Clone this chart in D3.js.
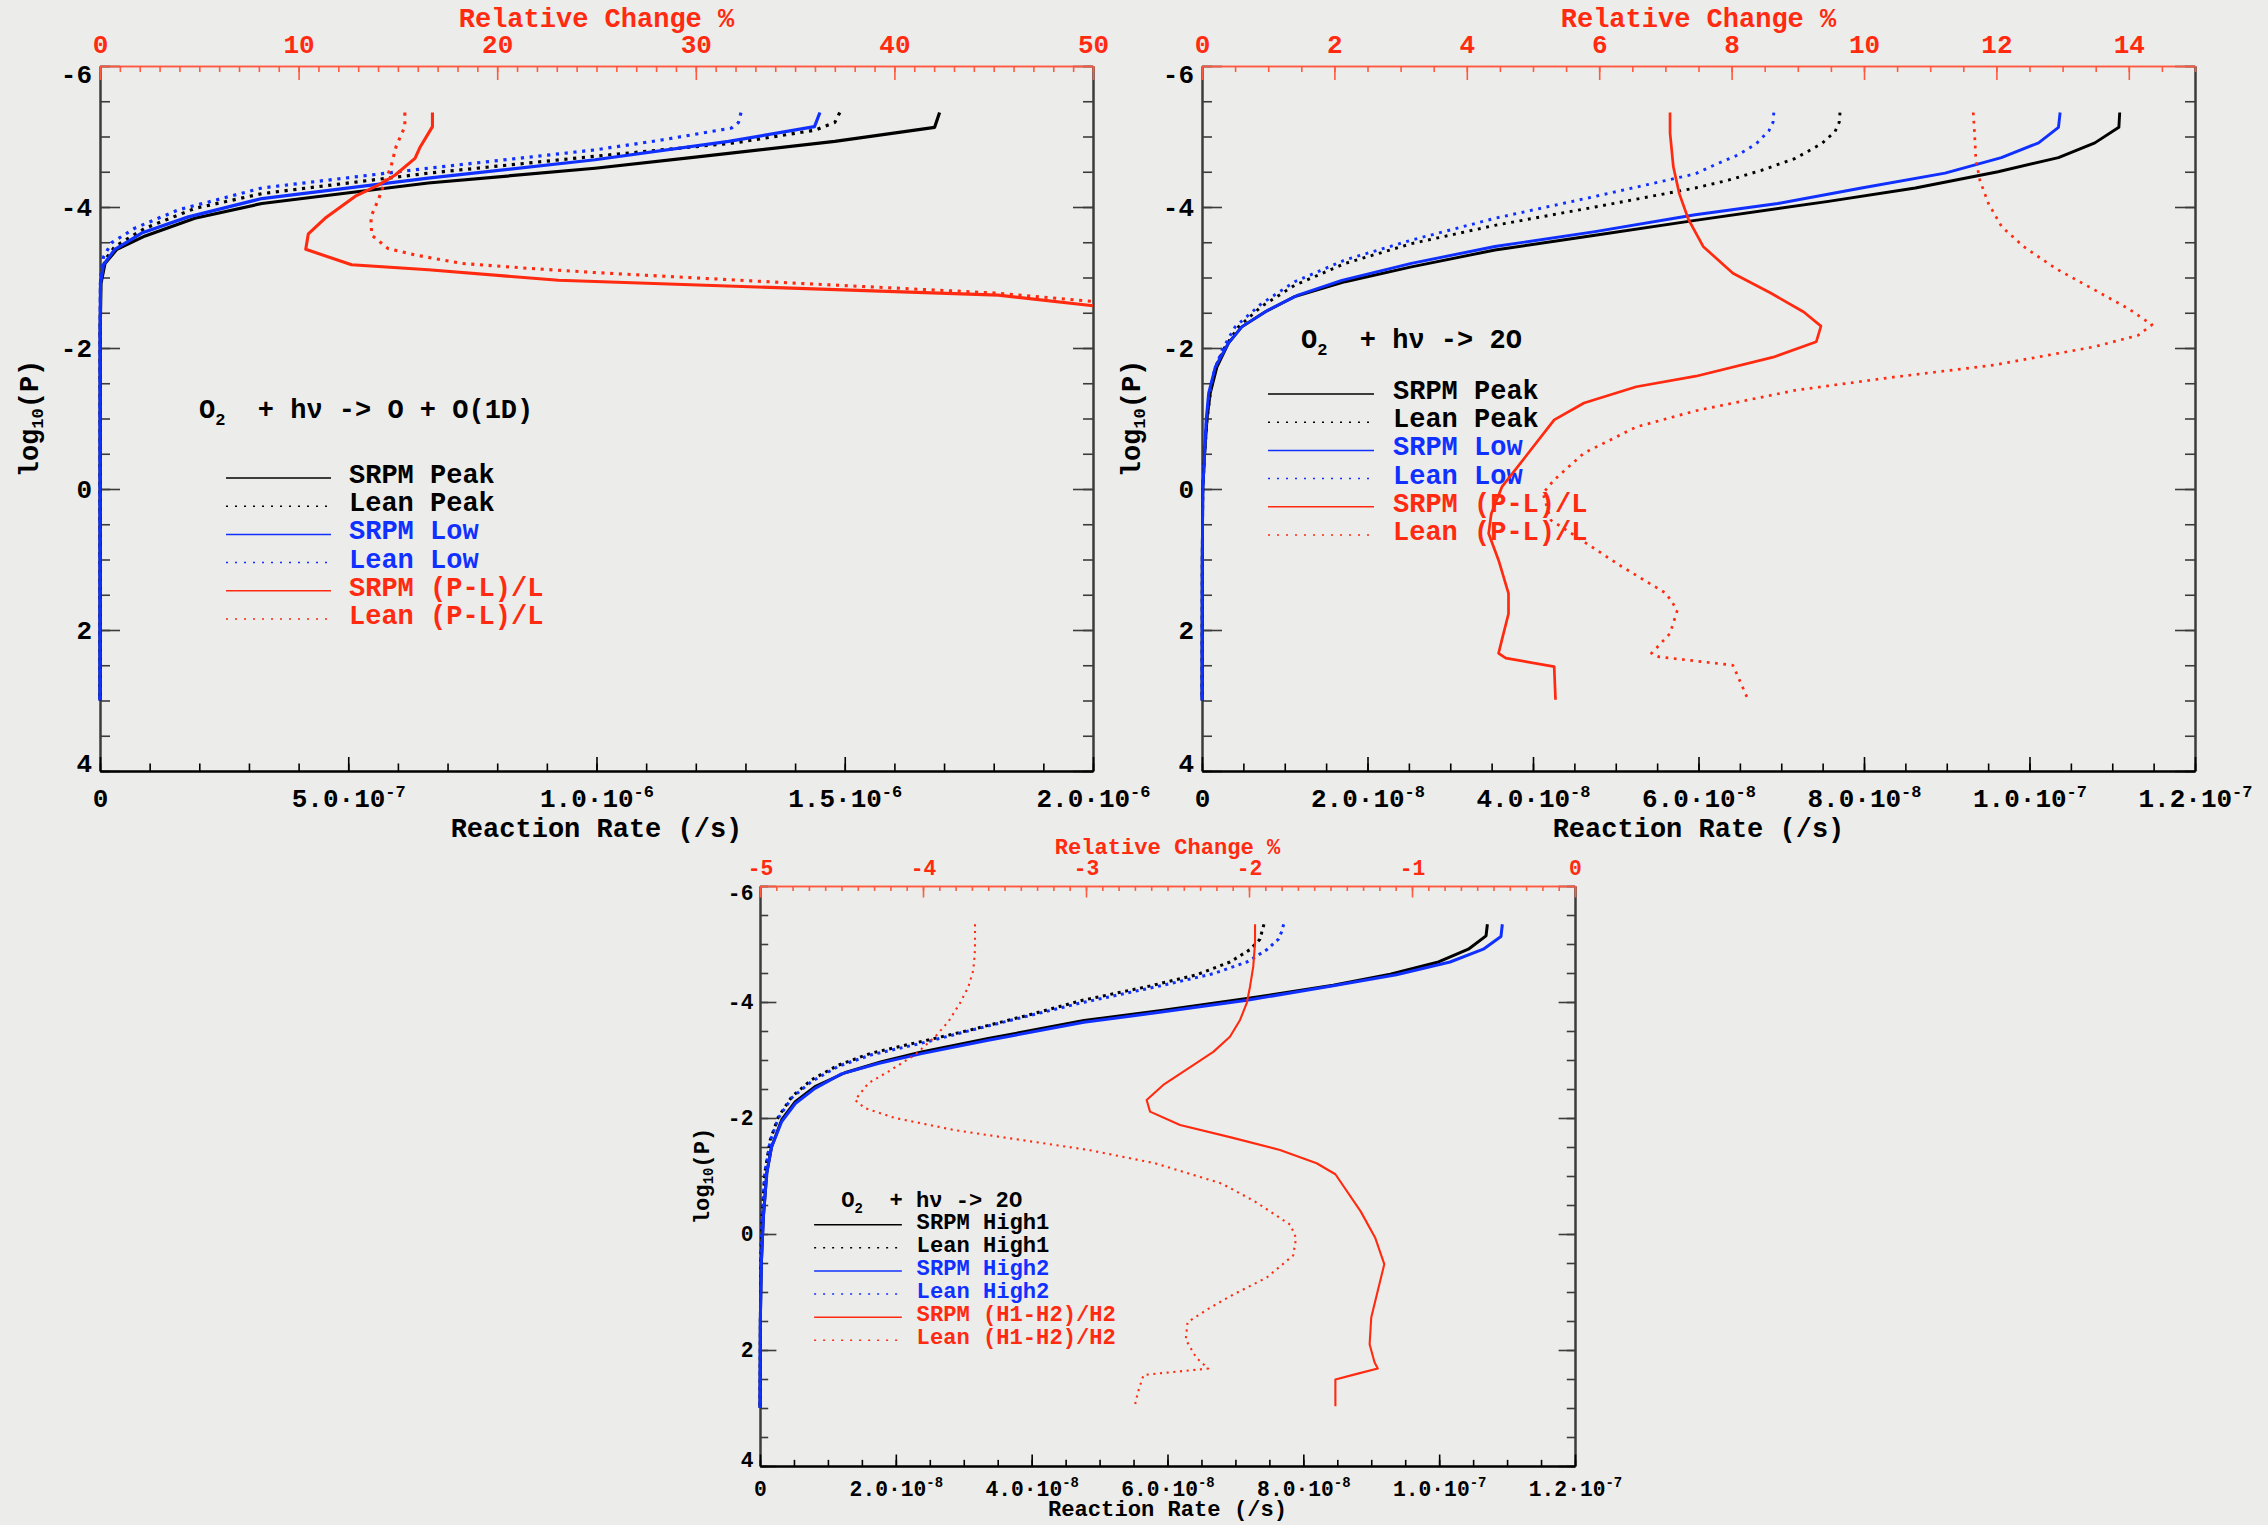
<!DOCTYPE html>
<meta charset="utf-8">
<style>
  body { margin: 0; background: #ecedea; }
  svg { display: block; }
  text { font-family: "Liberation Mono", "Courier New", monospace; font-weight: bold; white-space: pre; }
</style>
<body>
<script src="https://d3js.org/d3.v7.min.js"></script>
<script>

// ---------- data : [log10(P), value] ----------
var pressureTicks = [-6, -4, -2, 0, 2, 4];
var legendColours = ["#000", "#000", "#1030ff", "#1030ff", "#ff2a10", "#ff2a10"];

// panel 1 : O2 + hv -> O + O(1D)
var p1RateTicks = [0, 5e-7, 1e-6, 1.5e-6, 2e-6];
var p1RateLabels = [["0", ""], ["5.0·10", "-7"], ["1.0·10", "-6"], ["1.5·10", "-6"], ["2.0·10", "-6"]];
var p1PctTicks = [0, 10, 20, 30, 40, 50];
var p1Title = ["O", "2", "  + hν -> O + O(1D)"];
var p1Legend = ["SRPM Peak", "Lean Peak", "SRPM Low", "Lean Low", "SRPM (P-L)/L", "Lean (P-L)/L"];
var p1SrpmPeak = [[-5.34,16.91e-7],[-5.13,16.81e-7],[-4.93,14.80e-7],[-4.70,11.90e-7],[-4.55,9.97e-7],[-4.34,6.61e-7],[-4.05,3.26e-7],[-3.84,1.91e-7],[-3.59,0.91e-7],[-3.40,0.34e-7],[-3.20,0.10e-7],[-2.92,0.02e-7],[-2.26,0.004e-7],[3.00,0]];
var p1LeanPeak = [[-5.34,14.90e-7],[-5.20,14.80e-7],[-5.09,14.40e-7],[-4.91,12.79e-7],[-4.72,9.97e-7],[-4.48,6.61e-7],[-4.19,3.26e-7],[-3.98,1.91e-7],[-3.70,0.91e-7],[-3.44,0.30e-7],[-3.25,0.10e-7],[-2.92,0.01e-7],[-2.20,0.003e-7],[3.00,0]];
var p1SrpmLow = [[-5.34,14.50e-7],[-5.14,14.39e-7],[-4.93,12.66e-7],[-4.67,9.97e-7],[-4.41,6.61e-7],[-4.12,3.26e-7],[-3.86,1.78e-7],[-3.63,0.84e-7],[-3.40,0.30e-7],[-3.18,0.07e-7],[-2.92,0.01e-7],[-2.20,0.003e-7],[3.00,0]];
var p1LeanLow = [[-5.34,12.91e-7],[-5.20,12.86e-7],[-5.12,12.72e-7],[-4.95,11.31e-7],[-4.81,9.97e-7],[-4.55,6.61e-7],[-4.27,3.26e-7],[-3.96,1.58e-7],[-3.70,0.70e-7],[-3.49,0.23e-7],[-3.29,0.07e-7],[-3.00,0.01e-7],[-2.20,0.003e-7],[3.00,0]];
var p1SrpmRel = [[-5.34,16.74],[-5.14,16.74],[-4.84,16.10],[-4.69,15.86],[-4.45,14.85],[-4.31,14.01],[-4.15,12.84],[-3.84,11.33],[-3.62,10.49],[-3.40,10.36],[-3.18,12.67],[-3.11,16.53],[-2.96,23.08],[-2.75,45.23],[-2.60,50.0]];
var p1LeanRel = [[-5.34,15.35],[-5.14,15.35],[-4.86,14.91],[-4.57,14.65],[-4.36,14.35],[-4.10,14.01],[-3.86,13.64],[-3.60,13.68],[-3.41,14.51],[-3.32,15.86],[-3.20,18.21],[-3.13,21.57],[-3.07,24.92],[-2.92,34.99],[-2.78,45.06],[-2.66,50.0]];

// panel 2 : O2 + hv -> 2O
var p2RateTicks = [0, 2e-8, 4e-8, 6e-8, 8e-8, 1e-7, 1.2e-7];
var p2RateLabels = [["0", ""], ["2.0·10", "-8"], ["4.0·10", "-8"], ["6.0·10", "-8"], ["8.0·10", "-8"], ["1.0·10", "-7"], ["1.2·10", "-7"]];
var p2PctTicks = [0, 2, 4, 6, 8, 10, 12, 14];
var p2Title = ["O", "2", "  + hν -> 2O"];
var p2Legend = ["SRPM Peak", "Lean Peak", "SRPM Low", "Lean Low", "SRPM (P-L)/L", "Lean (P-L)/L"];
var p2SrpmPeak = [[-5.34,11.09e-8],[-5.13,11.08e-8],[-4.91,10.79e-8],[-4.70,10.35e-8],[-4.50,9.62e-8],[-4.27,8.62e-8],[-4.08,7.57e-8],[-3.81,5.96e-8],[-3.60,4.75e-8],[-3.39,3.54e-8],[-3.15,2.53e-8],[-2.94,1.73e-8],[-2.73,1.12e-8],[-2.51,0.76e-8],[-2.30,0.48e-8],[-2.07,0.32e-8],[-1.73,0.18e-8],[-1.36,0.10e-8],[-0.98,0.06e-8],[-0.46,0.03e-8],[0.00,0.01e-8],[1.00,0.003e-8],[3.00,0]];
var p2LeanPeak = [[-5.34,7.71e-8],[-5.20,7.70e-8],[-5.07,7.65e-8],[-4.90,7.49e-8],[-4.69,7.17e-8],[-4.52,6.76e-8],[-4.38,6.36e-8],[-4.27,5.96e-8],[-4.00,4.75e-8],[-3.74,3.54e-8],[-3.48,2.53e-8],[-3.20,1.73e-8],[-2.89,1.12e-8],[-2.59,0.72e-8],[-2.30,0.44e-8],[-2.02,0.28e-8],[-1.73,0.16e-8],[-1.36,0.10e-8],[-0.98,0.06e-8],[-0.46,0.03e-8],[0.00,0.01e-8],[1.00,0.003e-8],[3.00,0]];
var p2SrpmLow = [[-5.34,10.37e-8],[-5.13,10.35e-8],[-4.91,10.11e-8],[-4.70,9.66e-8],[-4.48,8.98e-8],[-4.27,7.97e-8],[-4.05,6.96e-8],[-3.89,5.96e-8],[-3.65,4.75e-8],[-3.44,3.54e-8],[-3.20,2.53e-8],[-2.96,1.69e-8],[-2.75,1.16e-8],[-2.54,0.80e-8],[-2.30,0.48e-8],[-2.07,0.32e-8],[-1.73,0.16e-8],[-1.36,0.08e-8],[-0.98,0.05e-8],[-0.46,0.03e-8],[0.00,0.01e-8],[1.00,0.003e-8],[3.00,0]];
var p2LeanLow = [[-5.34,6.91e-8],[-5.20,6.90e-8],[-5.08,6.85e-8],[-4.90,6.70e-8],[-4.74,6.48e-8],[-4.60,6.20e-8],[-4.47,5.96e-8],[-4.15,4.75e-8],[-3.84,3.54e-8],[-3.53,2.53e-8],[-3.25,1.73e-8],[-2.94,1.12e-8],[-2.63,0.72e-8],[-2.30,0.40e-8],[-1.97,0.24e-8],[-1.64,0.14e-8],[-1.26,0.08e-8],[-0.90,0.05e-8],[-0.40,0.025e-8],[0.00,0.01e-8],[1.00,0.003e-8],[3.00,0]];
var p2SrpmRel = [[-5.34,7.07],[-5.05,7.07],[-4.57,7.12],[-4.19,7.21],[-3.82,7.35],[-3.44,7.57],[-3.06,8.02],[-2.78,8.59],[-2.51,9.09],[-2.31,9.35],[-2.09,9.28],[-1.87,8.63],[-1.60,7.46],[-1.45,6.56],[-1.22,5.77],[-0.98,5.32],[-0.51,4.93],[-0.03,4.53],[0.35,4.37],[0.63,4.33],[1.01,4.48],[1.48,4.63],[1.77,4.63],[2.14,4.53],[2.33,4.48],[2.40,4.59],[2.52,5.32],[2.99,5.34]];
var p2LeanRel = [[-5.34,11.65],[-5.05,11.67],[-4.67,11.69],[-4.38,11.75],[-4.05,11.88],[-3.72,12.08],[-3.44,12.41],[-3.13,12.89],[-2.82,13.49],[-2.56,13.99],[-2.33,14.35],[-2.18,14.14],[-2.02,13.49],[-1.76,11.98],[-1.59,10.47],[-1.40,8.96],[-1.11,7.46],[-0.88,6.56],[-0.51,5.77],[-0.13,5.32],[0.06,5.15],[0.44,5.27],[0.68,5.66],[1.10,6.34],[1.48,7.01],[1.72,7.18],[2.05,7.07],[2.33,6.79],[2.38,6.90],[2.50,8.02],[2.69,8.11],[2.99,8.25]];

// panel 3 : O2 + hv -> 2O, high activity
var p3RateTicks = [0, 2e-8, 4e-8, 6e-8, 8e-8, 1e-7, 1.2e-7];
var p3RateLabels = [["0", ""], ["2.0·10", "-8"], ["4.0·10", "-8"], ["6.0·10", "-8"], ["8.0·10", "-8"], ["1.0·10", "-7"], ["1.2·10", "-7"]];
var p3PctTicks = [-5, -4, -3, -2, -1, 0];
var p3Title = ["O", "2", "  + hν -> 2O"];
var p3Legend = ["SRPM High1", "Lean High1", "SRPM High2", "Lean High2", "SRPM (H1-H2)/H2", "Lean (H1-H2)/H2"];
var p3SrpmH1 = [[-5.34,10.71e-8],[-5.14,10.69e-8],[-4.91,10.43e-8],[-4.69,9.99e-8],[-4.48,9.28e-8],[-4.29,8.44e-8],[-4.06,7.17e-8],[-3.86,5.94e-8],[-3.68,4.77e-8],[-3.37,3.36e-8],[-3.14,2.38e-8],[-2.97,1.79e-8],[-2.78,1.25e-8],[-2.54,0.81e-8],[-2.28,0.52e-8],[-1.97,0.32e-8],[-1.50,0.17e-8],[-1.05,0.10e-8],[-0.30,0.05e-8],[0.50,0.02e-8],[1.50,0.005e-8],[3.00,0]];
var p3LeanH1 = [[-5.34,7.42e-8],[-5.21,7.39e-8],[-5.08,7.36e-8],[-4.90,7.21e-8],[-4.69,6.92e-8],[-4.47,6.43e-8],[-4.27,5.72e-8],[-4.03,4.75e-8],[-3.79,4.00e-8],[-3.53,3.14e-8],[-3.32,2.38e-8],[-3.12,1.64e-8],[-2.91,1.15e-8],[-2.66,0.76e-8],[-2.37,0.47e-8],[-2.02,0.27e-8],[-1.62,0.15e-8],[-1.05,0.07e-8],[-0.30,0.03e-8],[0.50,0.01e-8],[3.00,0]];
var p3SrpmH2 = [[-5.34,10.93e-8],[-5.13,10.91e-8],[-4.91,10.65e-8],[-4.69,10.16e-8],[-4.47,9.37e-8],[-4.28,8.44e-8],[-4.03,7.17e-8],[-3.83,5.94e-8],[-3.65,4.77e-8],[-3.34,3.36e-8],[-3.11,2.38e-8],[-2.94,1.74e-8],[-2.76,1.20e-8],[-2.51,0.81e-8],[-2.25,0.52e-8],[-1.94,0.32e-8],[-1.50,0.17e-8],[-1.05,0.10e-8],[-0.30,0.05e-8],[0.50,0.02e-8],[1.50,0.005e-8],[3.00,0]];
var p3LeanH2 = [[-5.34,7.71e-8],[-5.21,7.68e-8],[-5.08,7.63e-8],[-4.90,7.46e-8],[-4.69,7.17e-8],[-4.49,6.68e-8],[-4.29,5.94e-8],[-3.98,4.71e-8],[-3.76,3.95e-8],[-3.51,3.10e-8],[-3.29,2.38e-8],[-3.09,1.64e-8],[-2.89,1.15e-8],[-2.63,0.76e-8],[-2.35,0.47e-8],[-2.00,0.27e-8],[-1.60,0.15e-8],[-1.05,0.07e-8],[-0.30,0.03e-8],[0.50,0.01e-8],[3.00,0]];
var p3SrpmRel = [[-5.34,-1.963],[-5.01,-1.963],[-4.61,-1.974],[-4.26,-1.994],[-3.98,-2.014],[-3.69,-2.055],[-3.40,-2.117],[-3.14,-2.219],[-2.91,-2.342],[-2.57,-2.526],[-2.31,-2.628],[-2.11,-2.607],[-1.88,-2.423],[-1.67,-2.117],[-1.45,-1.810],[-1.22,-1.585],[-1.03,-1.470],[-0.39,-1.315],[0.07,-1.225],[0.52,-1.170],[0.98,-1.210],[1.44,-1.250],[1.90,-1.260],[2.21,-1.230],[2.32,-1.210],[2.42,-1.350],[2.51,-1.470],[2.97,-1.470]];
var p3LeanRel = [[-5.34,-3.681],[-4.90,-3.681],[-4.55,-3.691],[-4.26,-3.722],[-3.98,-3.773],[-3.66,-3.845],[-3.40,-3.926],[-3.09,-4.049],[-2.80,-4.213],[-2.60,-4.335],[-2.31,-4.417],[-2.17,-4.356],[-2.00,-4.172],[-1.79,-3.804],[-1.62,-3.395],[-1.45,-2.986],[-1.22,-2.577],[-0.87,-2.168],[-0.56,-1.963],[-0.16,-1.747],[0.07,-1.711],[0.37,-1.729],[0.75,-1.891],[1.06,-2.107],[1.29,-2.250],[1.52,-2.377],[1.82,-2.388],[2.13,-2.324],[2.32,-2.250],[2.43,-2.647],[2.74,-2.683],[2.97,-2.701]];

// ---------- drawing ----------
var W = 2268, H = 1525;
var RED = "#ff2a10", AXRED = "#ff5a40", GREY = "#3c3c3c";

var svg = d3.select("body").append("svg").attr("width", W).attr("height", H);
svg.append("rect").attr("width", W).attr("height", H).attr("fill", "#ecedea");

// style of each series, in legend order
var styles = [
  {c: "#000", dot: false, rel: false},
  {c: "#000", dot: true, rel: false},
  {c: "#1030ff", dot: false, rel: false},
  {c: "#1030ff", dot: true, rel: false},
  {c: RED, dot: false, rel: true},
  {c: RED, dot: true, rel: true}
];

var panels = [
  {id: "p1", x: 100, y: 66, w: 993, h: 705, k: 1, xTitle: 66,
   rateMax: 2e-6, rateTicks: p1RateTicks, rateLabels: p1RateLabels, rateMinor: 1e-7,
   pctDomain: [0, 50], pctTicks: p1PctTicks, pctMinor: 1,
   title: p1Title, legend: p1Legend, titleY: 352, rowY: 412, lineX: [126, 231], textX: 249,
   series: [p1SrpmPeak, p1LeanPeak, p1SrpmLow, p1LeanLow, p1SrpmRel, p1LeanRel],
   width: 3.2, relWidth: 3.1},
  {id: "p2", x: 1202, y: 66, w: 993, h: 705, k: 1, xTitle: 66,
   rateMax: 1.2e-7, rateTicks: p2RateTicks, rateLabels: p2RateLabels, rateMinor: 5e-9,
   pctDomain: [0, 15], pctTicks: p2PctTicks, pctMinor: 0.5,
   title: p2Title, legend: p2Legend, titleY: 282, rowY: 328, lineX: [66, 172], textX: 191,
   series: [p2SrpmPeak, p2LeanPeak, p2SrpmLow, p2LeanLow, p2SrpmRel, p2LeanRel],
   width: 2.9, relWidth: 2.7},
  {id: "p3", x: 760, y: 886, w: 815, h: 580, k: 0.82, xTitle: 61,
   rateMax: 1.2e-7, rateTicks: p3RateTicks, rateLabels: p3RateLabels, rateMinor: 5e-9,
   pctDomain: [-5, 0], pctTicks: p3PctTicks, pctMinor: 0.1,
   title: p3Title, legend: p3Legend, titleY: 391.5, rowY: 413, lineX: [66, 173], textX: 191,
   series: [p3SrpmH1, p3LeanH1, p3SrpmH2, p3LeanH2, p3SrpmRel, p3LeanRel],
   width: 3.0, relWidth: 2.1}
];

function steps(lo, hi, step) {
  var n = Math.round((hi - lo) / step);
  return d3.range(n + 1).map(function(i) { return lo + i * step; });
}

function styleAxis(sel, colour, k) {
  sel.select(".domain").attr("stroke", colour).attr("stroke-width", 2);
  sel.selectAll(".tick line").attr("stroke", colour).attr("stroke-width", 1.6);
  sel.attr("font-family", '"Liberation Mono", "Courier New", monospace')
    .attr("font-size", 26 * k).attr("font-weight", "bold");
}

panels.forEach(function(p) {
  var k = p.k;
  var g = svg.append("g").attr("transform", "translate(" + p.x + "," + p.y + ")");

  var x = d3.scaleLinear().domain([0, p.rateMax]).range([0, p.w]);
  var xr = d3.scaleLinear().domain(p.pctDomain).range([0, p.w]);
  var y = d3.scaleLinear().domain([-6, 4]).range([0, p.h]);

  // left axis
  g.append("g").call(d3.axisLeft(y).tickValues(steps(-6, 4, 0.5)).tickSize(-10 * k).tickSizeOuter(0).tickFormat(""))
    .call(styleAxis, GREY, k);
  var gl = g.append("g")
    .call(d3.axisLeft(y).tickValues(pressureTicks).tickSize(-20 * k).tickSizeOuter(0).tickPadding(8 * k)
      .tickFormat(function(d) { return String(d); }))
    .call(styleAxis, GREY, k);
  gl.selectAll(".tick text").attr("fill", "#000")
    .attr("dy", function(d) { return ((d === -6 ? 8 : d === 4 ? -8 : 0) + 8.5) * k; });

  // right axis
  var gr = g.append("g").attr("transform", "translate(" + p.w + ",0)");
  gr.append("g").call(d3.axisRight(y).tickValues(steps(-6, 4, 0.5)).tickSize(-10 * k).tickSizeOuter(0).tickFormat(""))
    .call(styleAxis, GREY, k);
  gr.append("g").call(d3.axisRight(y).tickValues(pressureTicks).tickSize(-20 * k).tickSizeOuter(0).tickFormat(""))
    .call(styleAxis, GREY, k);

  // bottom axis (reaction rate)
  var gb = g.append("g").attr("transform", "translate(0," + p.h + ")");
  gb.append("g").call(d3.axisBottom(x).tickValues(steps(0, p.rateMax, p.rateMinor)).tickSize(-7.5 * k).tickSizeOuter(0).tickFormat(""))
    .call(styleAxis, "#000", k);
  var gbm = gb.append("g").call(d3.axisBottom(x).tickValues(p.rateTicks).tickSize(-14 * k).tickSizeOuter(0).tickFormat(""))
    .call(styleAxis, "#000", k);
  gbm.selectAll(".tick text").each(function(d, i) {
    var t = d3.select(this).attr("y", 36 * k).attr("dy", 0).attr("fill", "#000").text(null);
    var lab = p.rateLabels[i];
    t.append("tspan").text(lab[0]);
    if (lab[1]) t.append("tspan").attr("dy", -10 * k).attr("font-size", 17 * k).text(lab[1]);
  });

  // top axis (relative change), red
  g.append("g").call(d3.axisTop(xr).tickValues(steps(p.pctDomain[0], p.pctDomain[1], p.pctMinor)).tickSize(-6 * k).tickSizeOuter(0).tickFormat(""))
    .call(styleAxis, AXRED, k);
  var gt = g.append("g").call(d3.axisTop(xr).tickValues(p.pctTicks).tickSize(-14 * k).tickSizeOuter(0).tickPadding(13 * k)
      .tickFormat(function(d) { return String(d); }))
    .call(styleAxis, AXRED, k);
  gt.selectAll(".tick text").attr("fill", RED);
  g.selectAll(".domain").filter(function() { return this.getAttribute("stroke") === AXRED; }).attr("stroke-width", 1.6);

  // axis titles
  g.append("text").attr("x", p.w / 2).attr("y", p.h + p.xTitle * k).attr("text-anchor", "middle")
    .attr("font-size", 27 * k).attr("fill", "#000").text("Reaction Rate (/s)");
  g.append("text").attr("x", p.w / 2).attr("y", -39 * k).attr("text-anchor", "middle")
    .attr("font-size", 27 * k).attr("fill", RED).text("Relative Change %");
  var yl = g.append("text").attr("transform", "translate(" + (-62 * k) + "," + (p.h / 2) + ") rotate(-90)")
    .attr("text-anchor", "middle").attr("font-size", 27 * k).attr("fill", "#000");
  yl.append("tspan").text("log");
  yl.append("tspan").attr("font-size", 17 * k).attr("dy", 5 * k).text("10");
  yl.append("tspan").attr("dy", -5 * k).text("(P)");

  // reaction title and legend
  var lt = g.append("text").attr("x", 99 * k).attr("y", p.titleY * k).attr("font-size", 27 * k).attr("fill", "#000");
  lt.append("tspan").text(p.title[0]);
  lt.append("tspan").attr("font-size", 17 * k).attr("dy", 7 * k).text(p.title[1]);
  lt.append("tspan").attr("dy", -7 * k).text(p.title[2]);

  var lg = g.append("g");
  p.legend.forEach(function(name, i) {
    var ry = (p.rowY + i * 28.2) * k;
    lg.append("line").attr("x1", p.lineX[0] * k).attr("x2", p.lineX[1] * k).attr("y1", ry).attr("y2", ry)
      .attr("stroke", styles[i].c).attr("stroke-width", 1.5)
      .attr("stroke-dasharray", styles[i].dot ? "2,7" : null);
    lg.append("text").attr("x", p.textX * k).attr("y", ry + 5 * k).attr("font-size", 27 * k)
      .attr("fill", legendColours[i]).text(name);
  });

  // profiles
  g.append("clipPath").attr("id", "clip-" + p.id).append("rect")
    .attr("x", -4).attr("y", -2).attr("width", p.w + 4).attr("height", p.h + 4);
  var lines = g.append("g").attr("clip-path", "url(#clip-" + p.id + ")");
  p.series.forEach(function(data, i) {
    var s = styles[i];
    var sx = s.rel ? xr : x;
    var wd = s.rel ? p.relWidth : p.width;
    var line = d3.line().x(function(d) { return sx(d[1]); }).y(function(d) { return y(d[0]); });
    lines.append("path").datum(data).attr("d", line)
      .attr("fill", "none").attr("stroke", s.c).attr("stroke-width", wd)
      .attr("stroke-linejoin", "round")
      .attr("stroke-dasharray", s.dot ? (wd + "," + (5.6 * k)) : null);
  });
});

</script>
</body>
